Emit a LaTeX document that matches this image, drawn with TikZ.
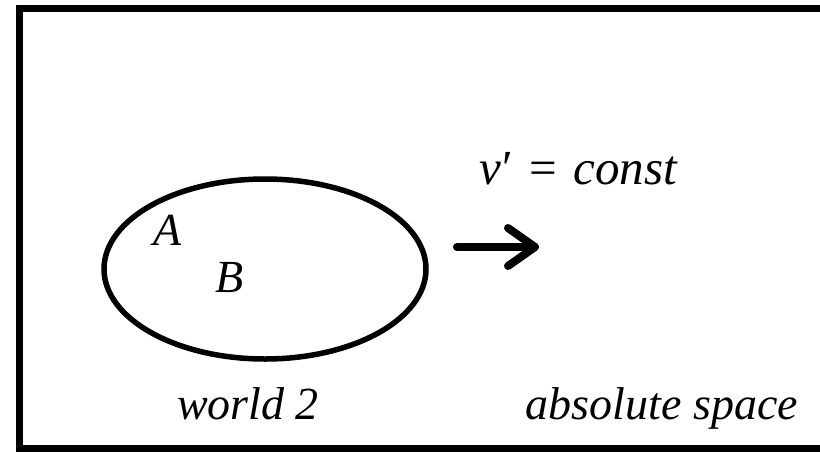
\documentclass[tikz,border=0pt]{standalone}
\usepackage{fontspec}
\setmainfont{Liberation Serif}
\usetikzlibrary{calc}
\begin{document}
\begin{tikzpicture}[x=1pt,y=-1pt,
  lbl/.style={inner sep=0pt,font=\fontsize{46}{52}\selectfont\itshape},
  frame/.style={draw=black,line width=7pt},
  world/.style={draw=black,line width=5.5pt},
  motion/.style={line width=8pt,line cap=round,line join=round}]
\useasboundingbox (0,0) rectangle (820,451);
\fill[white] (0,0) rectangle (820,451);
\draw[frame] (19.5,8) rectangle (824,448.5);
\draw[world] (265,269) ellipse [x radius=161, y radius=90];
\node[lbl] (A) at (168,230) {A};
\node[lbl] (B) at (230,277) {B};
\node[lbl,anchor=base,font=\fontsize{49}{54}\selectfont\itshape] (v) at (578,184) {v\kern2pt\upshape′\hspace{16pt}=\hspace{16pt}\itshape const};
\coordinate (s) at (457,247);
\coordinate (e) at (535,247);
\draw[motion] (s) -- (e);
\draw[motion] ($(e)+(-27,-19)$) -- (e) -- ($(e)+(-27,19)$);
\node[lbl,anchor=base] (w) at (248,419) {world 2};
\node[lbl,anchor=base] (abs) at (662,419) {absolute space};
\end{tikzpicture}
\end{document}
